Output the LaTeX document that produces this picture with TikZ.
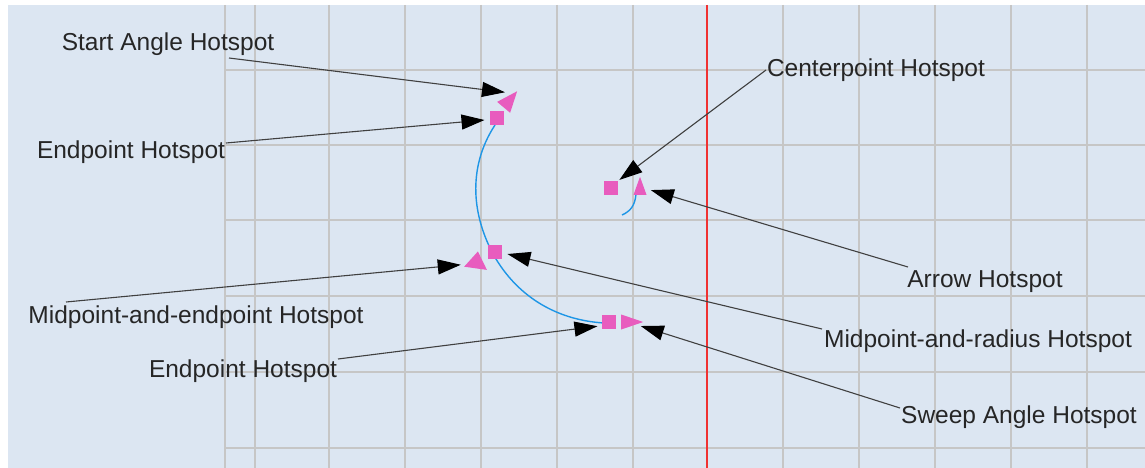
\documentclass[tikz,border=0pt]{standalone}
\usepackage{xcolor}
\usepackage{fontspec}
\setmainfont{Liberation Sans}
\usetikzlibrary{arrows.meta, positioning, shapes.geometric}
\definecolor{panelblue}{RGB}{220,230,242}
\definecolor{gridgray}{RGB}{198,198,198}
\definecolor{hotpink}{RGB}{232,92,190}
\definecolor{arcblue}{RGB}{30,150,230}
\definecolor{axisred}{RGB}{240,50,50}
\tikzset{
  hotlabel/.style={inner sep=0pt, font=\fontsize{24.5}{26}\selectfont, text=black!85},
  hotsquare/.style={fill=hotpink, draw=none, minimum size=14pt, inner sep=0pt},
  hottip/.style={isosceles triangle, isosceles triangle stretches, fill=hotpink, draw=none,
    inner sep=0pt, anchor=lower side},
  leader/.style={draw=black!75, line width=1.1pt, -{Triangle[length=23pt,width=15pt,color=black]}},
  gridline/.style={draw=gridgray, line width=1.6pt},
  arcline/.style={draw=arcblue, line width=1.4pt}
}
\begin{document}
\begin{tikzpicture}[x=1pt, y=-1pt]
        \useasboundingbox (0,0) rectangle (1145,468);
        \fill[panelblue] (8,5) rectangle (1145,468);

        % grid
        \foreach \gx in {225,255,329,405,481,557,633,783,859,935,1011,1087}
            \draw[gridline] (\gx,5) -- (\gx,468);
        \foreach \gy in {70,145,220,296,372,448}
            \draw[gridline] (225,\gy) -- (1145,\gy);
        \draw[draw=axisred, line width=1.6pt] (707,5) -- (707,468);

        % arcs
        \draw[arcline] (495,125) .. controls (472,160) and (468,205) .. (492,252)
            .. controls (515,295) and (555,320) .. (604,323);
        \draw[arcline] (636,194) .. controls (635,205) and (631,211) .. (622,215);

        % hotspots
        \node[hotsquare] (startend) at (497,118) {};
        \node[hotsquare] (center) at (611,188) {};
        \node[hotsquare] (midradius) at (495,252) {};
        \node[hotsquare] (sweepend) at (609,322) {};
        \node[hottip, rotate=50, minimum width=17pt, minimum height=21pt] (starttip) at (503.5,107.5) {};
        \node[hottip, rotate=90, minimum width=13pt, minimum height=18pt] (arrowtip) at (640,195) {};
        \node[hottip, rotate=82, minimum width=23pt, minimum height=17pt] (midtip) at (475.5,268.5) {};
        \node[hottip, minimum width=15pt, minimum height=22pt] (sweeptip) at (621,322) {};

        % labels
        \node[hotlabel] (startlabel) at (168,44.5) {Start Angle Hotspot};
        \node[hotlabel] (endlabel) at (131,152.5) {Endpoint Hotspot};
        \node[hotlabel] (midendlabel) at (196,317.5) {Midpoint-and-endpoint Hotspot};
        \node[hotlabel] (endlabelb) at (243,371.5) {Endpoint Hotspot};
        \node[hotlabel] (centerlabel) at (876,70.5) {Centerpoint Hotspot};
        \node[hotlabel] (arrowlabel) at (985,281.5) {Arrow Hotspot};
        \node[hotlabel] (midradlabel) at (978,341.5) {Midpoint-and-radius Hotspot};
        \node[hotlabel] (sweeplabel) at (1019,417.5) {Sweep Angle Hotspot};

        % leaders
        \coordinate (startfoot) at (229,58);
        \coordinate (endfoot) at (226,143);
        \coordinate (midfoot) at (66,302);
        \coordinate (endfootb) at (338,359);
        \coordinate (centerfoot) at (766,70);
        \coordinate (arrowfoot) at (908,267);
        \coordinate (radiusfoot) at (822,329);
        \coordinate (sweepfoot) at (900,408);
        \draw[leader, shorten >=8pt] (startfoot) -- (starttip.10);
        \draw[leader, shorten >=5.3pt] (endfoot) -- (startend.192);
        \draw[leader, shorten >=5.3pt] (midfoot) -- (midtip.109);
        \draw[leader, shorten >=4.4pt] (endfootb) -- (sweepend.207);
        \draw[leader, shorten >=1.5pt] (centerfoot) -- (center.north east);
        \draw[leader, shorten >=6.8pt] (arrowfoot) -- (arrowtip.296);
        \draw[leader, shorten >=5.4pt] (radiusfoot) -- (midradius.354);
        \draw[leader, shorten >=4.8pt] (sweepfoot) -- (sweeptip.345);
    \end{tikzpicture}
\end{document}
